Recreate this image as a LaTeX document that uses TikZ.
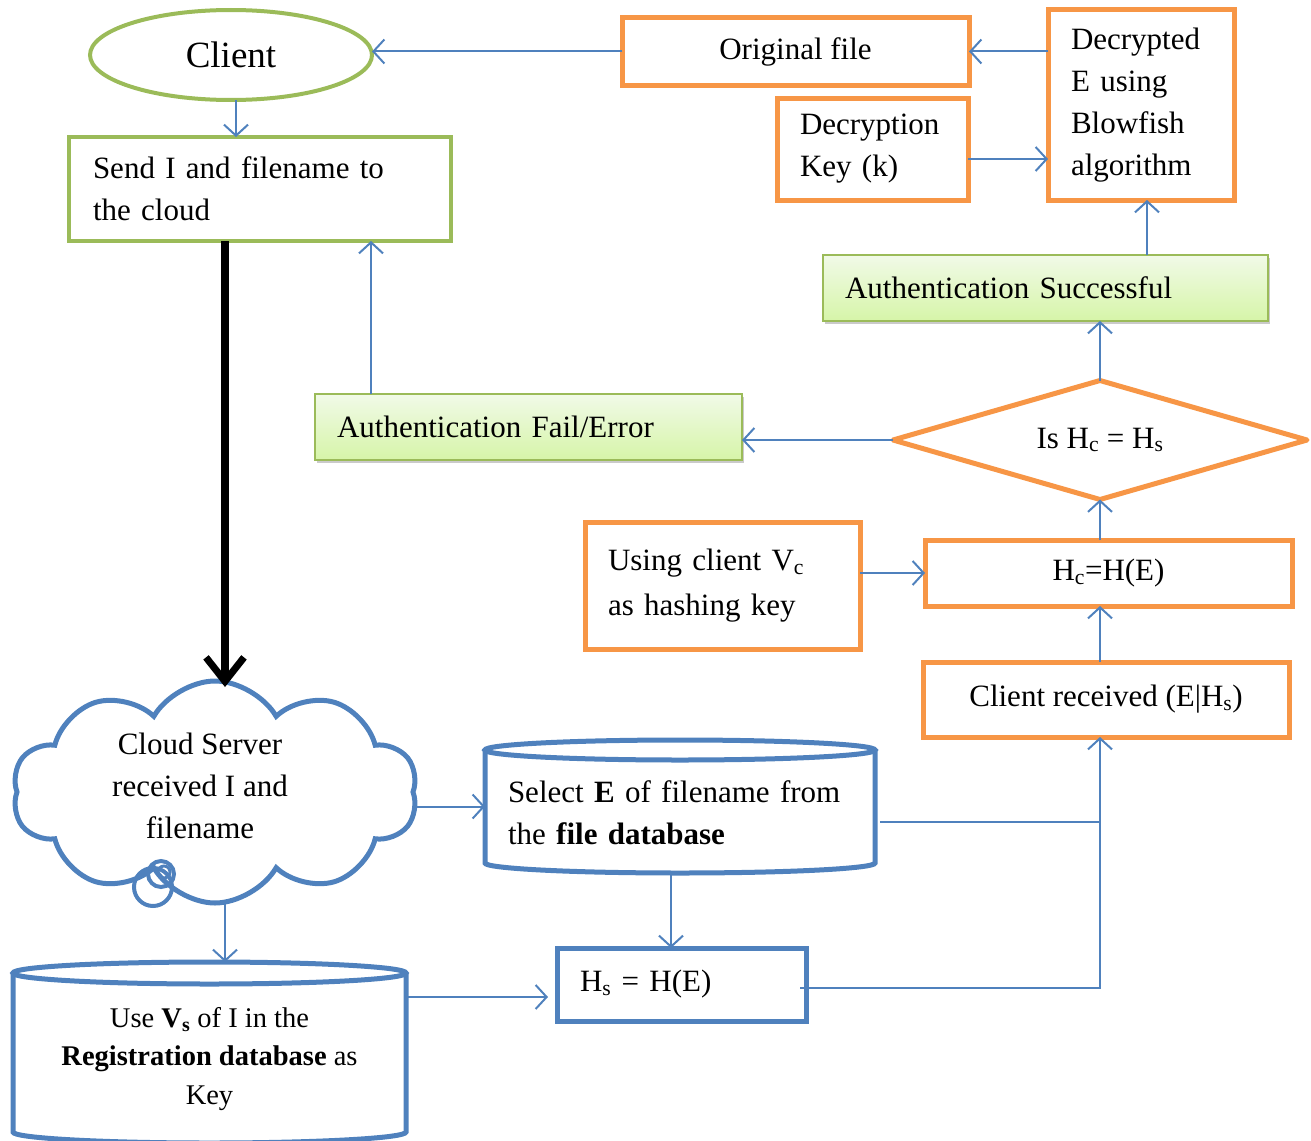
\documentclass[tikz,border=0pt]{standalone}
\usepackage{fontspec}
\setmainfont{Liberation Serif}
\usetikzlibrary{shapes.geometric,shapes.symbols,arrows.meta,calc,shadows}
\definecolor{orng}{HTML}{F79646}
\definecolor{grn}{HTML}{9BBB59}
\definecolor{blu}{HTML}{4F81BD}
\definecolor{ltop}{HTML}{F1FAE8}
\definecolor{lbot}{HTML}{D6F5A8}
\begin{document}
\begin{tikzpicture}[x=1pt,y=-1pt,
  every node/.style={font=\fontsize{31}{42}\selectfont, inner sep=0pt, outer sep=0pt},
  obox/.style={draw=orng, line width=5pt, rectangle},
  gbox/.style={draw=grn, line width=4pt},
  abox/.style={draw=grn, line width=1.5pt, top color=ltop, bottom color=lbot,
    drop shadow={shadow xshift=2pt, shadow yshift=-3pt, opacity=.35, fill=black!60}},
  cyl/.style={draw=blu, line width=5pt},
  conn/.style={draw=blu, line width=2pt, -{Straight Barb[length=11pt,width=24pt,line width=2pt]}},
  plain/.style={draw=blu, line width=2pt},
  bigarrow/.style={draw=black, line width=8pt, -{Straight Barb[length=24pt,width=38pt,line width=7pt]}}]
\useasboundingbox (0,0) rectangle (1311,1140);

% nodes
\node[gbox, ellipse, minimum width=282pt, minimum height=90pt, font=\fontsize{37}{44}\selectfont] (client) at (231,55) {Client};
\node[gbox, rectangle, minimum width=382pt, minimum height=104pt, text width=334pt, align=left] (send) at (260,189) {Send I and filename to\\the cloud};
\node[obox, minimum width=347pt, minimum height=67pt] (orig) at (795.5,51.5) {Original file};
\node[obox, minimum width=186pt, minimum height=190pt, text width=140pt, align=left] (dec) at (1141,105) {Decrypted\\E using\\Blowfish\\algorithm};
\node[obox, minimum width=191pt, minimum height=102pt, text width=145pt, align=left] (key) at (872.5,149) {Decryption\\Key (k)};
\node[abox, minimum width=445pt, minimum height=66pt, text width=401pt, align=left] (succ) at (1045.5,288) {Authentication Successful};
\node[abox, minimum width=427pt, minimum height=66pt, text width=383pt, align=left] (fail) at (528.5,427) {Authentication Fail/Error};
\node[minimum width=414pt, minimum height=119pt] (dia) at (1100,440) {Is H\textsubscript{c} = H\textsubscript{s}};
\draw[draw=orng, line width=5pt, line join=round] (dia.west) -- (dia.north) -- (dia.east) -- (dia.south) -- cycle;
\node[obox, minimum width=367pt, minimum height=66pt] (hc) at (1108.5,573) {H\textsubscript{c}=H(E)};
\node[obox, minimum width=275pt, minimum height=127pt, text width=229pt, align=left, font=\fontsize{31}{45}\selectfont] (use) at (722.5,585.5) {Using client V\textsubscript{c}\\as hashing key};
\node[obox, minimum width=366pt, minimum height=75pt] (recv) at (1106,699.5) {Client received (E|H\textsubscript{s})};

% cloud
\node[draw=blu, line width=5pt, cloud, cloud puffs=10, cloud puff arc=120, aspect=1.8, minimum width=405pt, minimum height=222pt] (cloud) at (215,792) {};
\node[align=center] (cloudtxt) at (200,786) {Cloud Server\\received I and\\filename};
\draw[draw=blu, line width=4pt] (153,887) circle[radius=19pt];
\draw[draw=blu, line width=4pt] (161,874) circle[radius=13pt];
\draw[draw=blu, line width=3pt] (164,872) circle[radius=6pt];

% select cylinder
\node[minimum width=390pt, minimum height=133pt] (sel) at (680,806.5) {};
\draw[cyl, fill=white] ($(sel.north west)+(0,10)$) -- ($(sel.south west)+(0,-10)$) arc[start angle=180,end angle=360,x radius=195pt,y radius=10pt] -- ($(sel.north east)+(0,10)$);
\draw[cyl] ($(sel.north)+(0,10)$) ellipse [x radius=195pt, y radius=10pt];
\node[align=left, text width=344pt] (seltxt) at (680,813) {Select \textbf{E} of filename from\\the \textbf{file database}};

% Hs box
\node[draw=blu, line width=5pt, minimum width=249pt, minimum height=73pt, text width=203pt, align=left] (hs) at (681.5,984.5) {H\textsubscript{s} = H(E)};

% registration cylinder
\node[minimum width=393pt, minimum height=178pt] (reg) at (209.5,1051) {};
\draw[cyl] ($(reg.north west)+(0,11)$) -- ($(reg.south west)+(0,-8)$) arc[start angle=180,end angle=360,x radius=196.5pt,y radius=11pt] -- ($(reg.north east)+(0,11)$);
\draw[cyl] ($(reg.north)+(0,11)$) ellipse [x radius=196.5pt, y radius=11pt];
\node[align=center, font=\fontsize{28.5}{38.5}\selectfont] (regtxt) at (209.5,1059) {Use \textbf{V\textsubscript{s}} of I in the\\\textbf{Registration database} as\\Key};

% connectors
\draw[conn] (orig.west) -- (orig.west -| client.east);
\draw[conn] (orig.east -| dec.west) -- (orig.east);
\draw[conn] ($(key.east)+(0,10)$) -- ($(key.east -| dec.west)+(0,10)$);
\draw[conn] ($(dec.south |- succ.north)+(6,0)$) -- ($(dec.south)+(6,0)$);
\draw[conn] (dia.north) -- (dia.north |- succ.south);
\draw[conn] (dia.west) -- (dia.west -| fail.east);
\coordinate (fup) at ($(fail.north west)+(56,0)$);
\draw[conn] (fup) -- (fup |- send.south);
\draw[conn] ($(client.south)+(5,0)$) -- ($(client.south |- send.north)+(5,0)$);
\coordinate (tk) at ($(send.south west)+(156,0)$);
\draw[bigarrow] (tk) -- ($(tk |- cloud.north)+(0,6)$);
\draw[conn] (dia.south |- hc.north) -- (dia.south);
\draw[conn] (hc.west -| use.east) -- (hc.west);
\draw[conn] (dia.south |- recv.north) -- (dia.south |- hc.south);
\draw[conn] (sel.west -| cloud.east) -- (sel.west);
\coordinate (sr) at ($(sel.east)+(5,15.5)$);
\draw[plain] (sr) -- (sr -| dia.south);
\coordinate (hr) at ($(hs.east)+(-6,3.5)$);
\draw[conn] (hr) -- (hr -| dia.south) -- (dia.south |- recv.south);
\coordinate (sb) at ($(sel.south)+(-9,0)$);
\draw[conn] (sb) -- (sb |- hs.north);
\coordinate (cb) at ($(cloud.south)+(10,0)$);
\draw[conn] (cb) -- (cb |- reg.north);
\coordinate (rr) at ($(reg.north east)+(0,35)$);
\draw[conn, shorten >=9pt] (rr) -- (rr -| hs.west);
\end{tikzpicture}
\end{document}
